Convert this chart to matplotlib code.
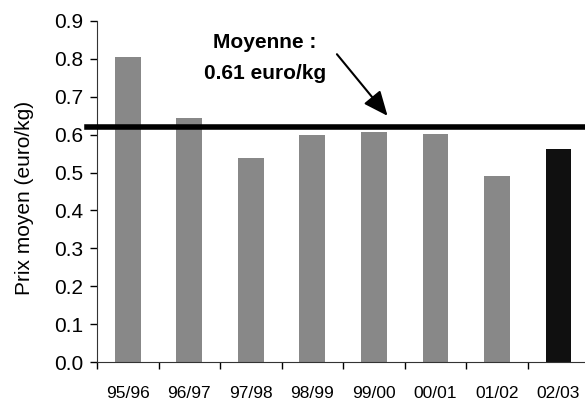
import matplotlib
matplotlib.use("Agg")
import matplotlib.pyplot as plt
import numpy as np

plt.rcParams['font.family'] = ['Liberation Sans', 'DejaVu Sans']

saisons = ["95/96", "96/97", "97/98", "98/99", "99/00", "00/01", "01/02", "02/03"]
prix = [0.805, 0.645, 0.538, 0.598, 0.608, 0.603, 0.492, 0.561]
couleurs = ["#888888"] * 7 + ["#101010"]
moyenne = 0.62

fig = plt.figure(figsize=(5.85, 4.03), dpi=100)
ax = fig.add_axes([97 / 585, 1 - 362 / 403, 488 / 585, (362 - 21) / 403])

x = np.arange(len(saisons))
ax.bar(x, prix, width=0.42, color=couleurs, zorder=2)

# ligne de la moyenne, depasse un peu a gauche de l'axe
ax.plot([-0.66, 7.43], [moyenne, moyenne], color="black", lw=4, clip_on=False, zorder=3)

ax.set_xlim(-0.5, 7.43)
ax.set_ylim(0, 0.9)
ax.set_yticks(np.arange(0, 0.91, 0.1))
ax.set_yticklabels([f"{v:.1f}" for v in np.arange(0, 0.91, 0.1)], fontsize=15)
ax.set_xticks(x)
ax.set_xticklabels(saisons, fontsize=12.5)
ax.tick_params(axis="x", length=0, pad=17)
ax.set_xticks(np.arange(-0.5, 7.5, 1), minor=True)
ax.tick_params(axis="x", which="minor", length=5, direction="out", width=1)
ax.tick_params(axis="y", length=5, direction="out", width=1, pad=5)

for s in ["top", "right"]:
    ax.spines[s].set_visible(False)
ax.spines["left"].set_color("#333333")
ax.spines["bottom"].set_color("#333333")

ax.set_ylabel("Prix moyen (euro/kg)", fontsize=15)
ax.yaxis.set_label_coords(-0.13, 0.48)

ax.annotate("", xy=(4.25, 0.644), xytext=(3.37, 0.818),
            arrowprops=dict(arrowstyle="-|>,head_length=1.5,head_width=0.65", color="black", lw=1.5))
ax.text(2.23, 0.844, "Moyenne :", fontsize=15, fontweight="bold", ha="center", va="center")
ax.text(2.23, 0.762, "0.61 euro/kg", fontsize=15, fontweight="bold", ha="center", va="center")

fig.savefig("out.png", dpi=100)
